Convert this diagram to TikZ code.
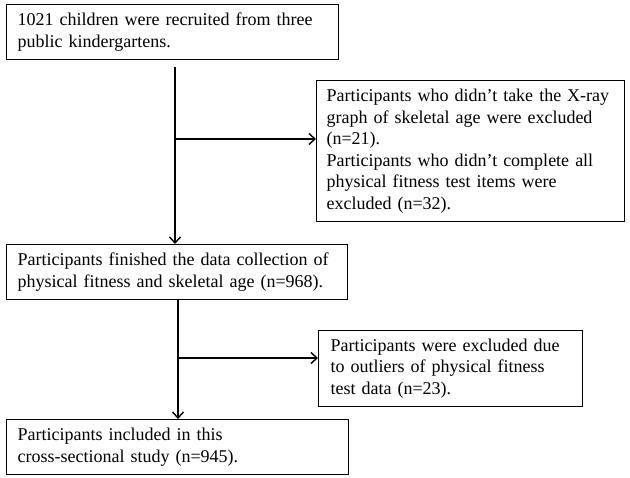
\documentclass[tikz,border=0pt]{standalone}
\usepackage{fontspec}
\setmainfont{Liberation Serif}
\usetikzlibrary{arrows.meta,calc}
\tikzset{box/.style={draw,line width=1.2pt,anchor=north west,align=left,inner xsep=11pt,inner ysep=0pt,font=\fontsize{18}{21.5}\selectfont}}
\tikzset{flow/.style={-{Straight Barb[length=6pt,width=11pt,line width=1.4pt]},line width=1.2pt}}
\tikzset{line/.style={line width=1.2pt}}

\begin{document}
\begin{tikzpicture}[x=1pt,y=-1pt]
    \useasboundingbox (0,0) rectangle (630,478);
    \node [box,minimum width=332pt,minimum height=55pt,text width=310pt] (recruit) at (6,4) {1021 children were recruited from three\\public kindergartens.};
    \node [box,minimum width=308pt,minimum height=141pt,inner xsep=10pt,text width=288pt] (excl1) at (316,80) {Participants who didn't take the X-ray\\graph of skeletal age were excluded\\(n=21).\\Participants who didn't complete all\\physical fitness test items were\\excluded (n=32).};
    \node [box,minimum width=341pt,minimum height=55pt,text width=319pt] (finish) at (6,244) {Participants finished the data collection of\\physical fitness and skeletal age (n=968).};
    \node [box,minimum width=264pt,minimum height=76pt,inner xsep=12pt,text width=240pt] (excl2) at (318,330) {Participants were excluded due\\to outliers of physical fitness\\test data (n=23).};
    \node [box,minimum width=342pt,minimum height=55pt,text width=320pt] (final) at (6,419) {Participants included in this\\cross-sectional study (n=945).};
    % first stage
    \coordinate (s1) at (175,67);
    \coordinate (j1) at (175,139);
    \draw [flow] (s1) -- (s1 |- finish.north);
    \draw [flow] (j1) -- (j1 -| excl1.west);
    % second stage
    \coordinate (s2) at (178,299);
    \coordinate (j2) at (178,358);
    \draw [flow] (s2) -- (s2 |- final.north);
    \draw [flow] (j2) -- (j2 -| excl2.west);
\end{tikzpicture}
\end{document}
